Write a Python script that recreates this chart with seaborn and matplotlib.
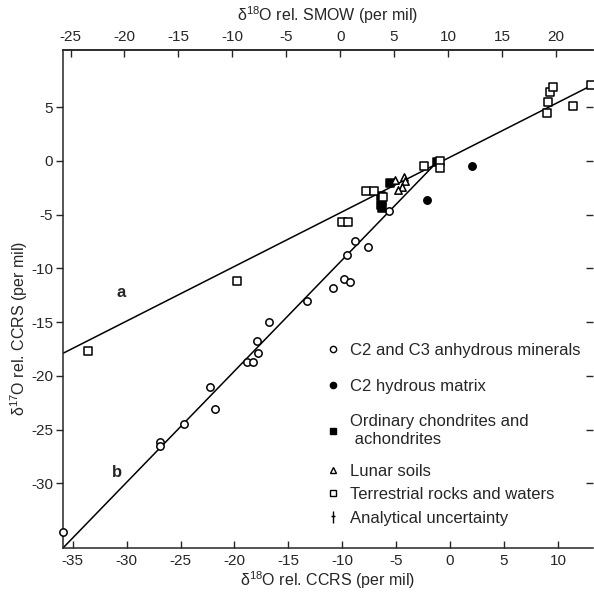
"""
Three-isotope plot of oxygen: d17O against d18O (rel. CCRS), with the
terrestrial fractionation line (a) and the anhydrous-mineral mixing line (b).
"""
import matplotlib
matplotlib.use("Agg")
import matplotlib.pyplot as plt
import matplotlib.path as mpath
from matplotlib.lines import Line2D
import seaborn as sns

# ---- data (per mil, rel. CCRS) ----
# C2 and C3 anhydrous minerals (open circles)
anhyd_x = [-35.9, -26.9, -26.9, -24.7, -22.3, -21.8, -18.8, -18.3, -17.8, -17.9,
           -16.8, -13.3, -10.9, -9.8, -9.3, -9.6, -8.8, -7.6, -5.7]
anhyd_y = [-34.5, -26.1, -26.5, -24.5, -21.0, -23.1, -18.7, -18.7, -17.9, -16.8,
           -15.0, -13.0, -11.8, -11.0, -11.3, -8.8, -7.5, -8.0, -4.7]

# C2 hydrous matrix (filled circles)
hydrous_x = [2.0, -2.1]
hydrous_y = [-0.5, -3.6]

# Ordinary chondrites and achondrites (filled squares)
ordinary_x = [-6.4, -6.3, -6.4, -6.3, -5.6, -1.2]
ordinary_y = [-3.3, -3.7, -4.1, -4.4, -2.1, -0.1]

# Lunar soils (open triangles)
lunar_x = [-5.1, -4.3, -4.2, -4.5, -4.8]
lunar_y = [-1.8, -1.5, -1.9, -2.4, -2.7]

# Terrestrial rocks and waters (open squares)
terr_x = [-33.6, -19.8, -10.0, -9.5, -7.8, -7.1, -6.2, -2.4, -0.96, -0.9,
          9.1, 9.0, 9.3, 9.5, 11.4, 13.05]
terr_y = [-17.7, -11.2, -5.7, -5.7, -2.8, -2.8, -3.4, -0.5, -0.06, -0.7,
          5.5, 4.4, 6.4, 6.9, 5.1, 7.0]

# the two reference lines
line_a_x = [-35.9, 13.3]
line_a_y = [-17.9, 7.1]
line_b_x = [-36.0, -1.1]
line_b_y = [-36.1, 0.0]

# line labels
label_names = ["a", "b"]
label_x = [-30.5, -30.9]
label_y = [-12.2, -29.0]

# axis ticks
xticks_ccrs = [-35, -30, -25, -20, -15, -10, -5, 0, 5, 10]
xticks_smow = [-25, -20, -15, -10, -5, 0, 5, 10, 15, 20]
yticks = [5, 0, -5, -10, -15, -20, -25, -30]
smow_offset = 10.2   # SMOW = CCRS + offset

legend_labels = ["C2 and C3 anhydrous minerals", "C2 hydrous matrix",
                 "Ordinary chondrites and\n achondrites", "Lunar soils",
                 "Terrestrial rocks and waters", "Analytical uncertainty"]

# ---- style ----
sns.set_style("ticks")
plt.rcParams["font.family"] = ["Liberation Sans", "DejaVu Sans"]
plt.rcParams["mathtext.fontset"] = "custom"
plt.rcParams["mathtext.rm"] = "Liberation Sans"
plt.rcParams["axes.unicode_minus"] = False
plt.rcParams["axes.linewidth"] = 1.1

fig = plt.figure(figsize=(5.94, 5.96), dpi=100)
ax = fig.add_axes([63 / 594, 1 - 548 / 596, 530 / 594, 498 / 596])

# lines
sns.lineplot(x=line_a_x, y=line_a_y, ax=ax, color="black", linewidth=1.1)
sns.lineplot(x=line_b_x, y=line_b_y, ax=ax, color="black", linewidth=1.1)

# points
ms = 28
common = dict(ax=ax, s=ms, edgecolor="black", linewidth=1.1, zorder=3, clip_on=False)
sns.scatterplot(x=anhyd_x, y=anhyd_y, marker="o", facecolor="white", **common)
sns.scatterplot(x=hydrous_x, y=hydrous_y, marker="o", facecolor="black", **common)
sns.scatterplot(x=ordinary_x, y=ordinary_y, marker="s", facecolor="black", **common)
sns.scatterplot(x=lunar_x, y=lunar_y, marker="^", facecolor="white", **common)
sns.scatterplot(x=terr_x, y=terr_y, marker="s", facecolor="white", **common)

for name, lx, ly in zip(label_names, label_x, label_y):
    ax.text(lx, ly, name, fontsize=12, fontweight="bold", ha="center", va="center")

# axes limits and ticks
ax.set_xlim(-35.9, 13.25)
ax.set_ylim(-36.0, 10.3)
ax.set_xticks(xticks_ccrs)
ax.set_yticks(yticks)
ax.tick_params(axis="x", direction="in", length=5, width=1, labelsize=11, pad=4)
ax.tick_params(axis="y", direction="out", length=5, width=1, labelsize=11, pad=2,
               right=True, labelright=False)
for t in ax.yaxis.get_ticklines()[1::2]:
    t.set_marker(0)   # right side ticks point inward
ax.spines["right"].set_visible(False)

ax.set_xlabel(r"δ$^{18}$O rel. CCRS (per mil)", fontsize=11.5, labelpad=1)
ax.set_ylabel(r"δ$^{17}$O rel. CCRS (per mil)", fontsize=11.5)
ax.yaxis.set_label_coords(-0.062, 0.44)

# top axis in SMOW units
sec = ax.secondary_xaxis("top", functions=(lambda v: v + smow_offset,
                                           lambda v: v - smow_offset))
sec.set_xticks(xticks_smow)
sec.tick_params(direction="in", length=5, width=1, labelsize=11, pad=4)
sec.set_xlabel(r"δ$^{18}$O rel. SMOW (per mil)", fontsize=11.5, labelpad=7)

# legend (two blocks: the original spaces the upper entries wider)
cross = mpath.Path([(0, -1.3), (0, 1.3), (-0.45, 0.25), (0.45, 0.25)],
                   [mpath.Path.MOVETO, mpath.Path.LINETO,
                    mpath.Path.MOVETO, mpath.Path.LINETO])
kw = dict(linestyle="none", markeredgecolor="black", markeredgewidth=1.0, markersize=4.5)
handles = [
    Line2D([], [], marker="o", markerfacecolor="white", **kw),
    Line2D([], [], marker="o", markerfacecolor="black", **kw),
    Line2D([], [], marker="s", markerfacecolor="black", **kw),
    Line2D([], [], marker="^", markerfacecolor="white", **kw),
    Line2D([], [], marker="s", markerfacecolor="white", **kw),
    Line2D([], [], marker=cross, markerfacecolor="none", linestyle="none",
           markeredgecolor="black", markeredgewidth=1.0, markersize=9),
]
leg_kw = dict(frameon=False, fontsize=12, handlelength=1.0, handletextpad=0.5,
              borderaxespad=0, borderpad=0)
leg1 = ax.legend(handles[:3], legend_labels[:3], loc="upper left",
                 bbox_to_anchor=(0.494, 0.412), labelspacing=1.25, **leg_kw)
ax.add_artist(leg1)
ax.legend(handles[3:], legend_labels[3:], loc="lower left",
          bbox_to_anchor=(0.494, 0.045), labelspacing=0.5, **leg_kw)

fig.savefig("out.png", dpi=100)
